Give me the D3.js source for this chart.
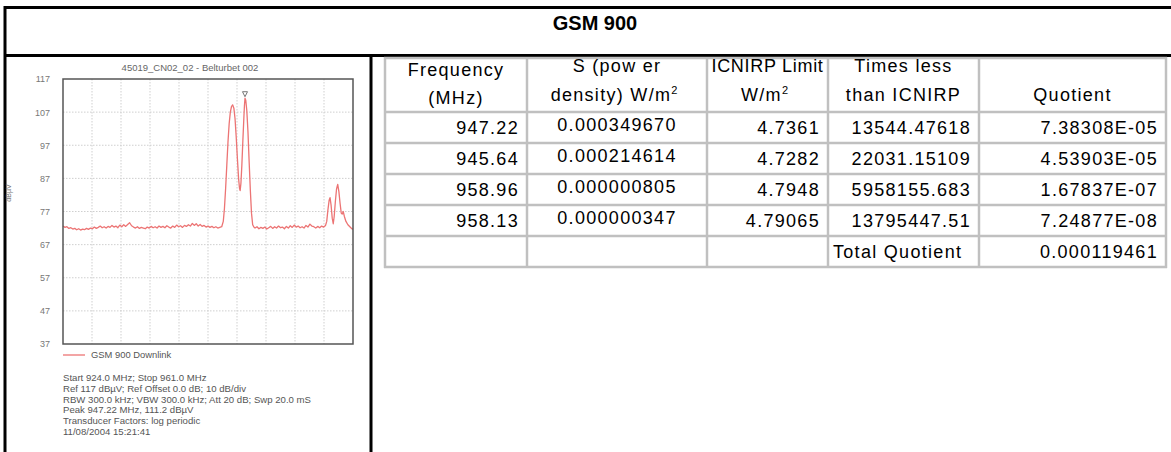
<!DOCTYPE html>
<html>
<head>
<meta charset="utf-8">
<script src="https://cdn.jsdelivr.net/npm/d3@7"></script>
<style>
  body { margin: 0; background: #fff; }
  svg { display: block; }
</style>
</head>
<body>
<svg width="1171" height="452"></svg>
<script>
// spectrum trace: [MHz, dBµV]
const spectrum = [
  [924.00, 72.6], [924.25, 72.2], [924.50, 72.4], [924.75, 71.9], [925.00, 72.1], [925.25, 71.7],
  [925.50, 71.9], [925.75, 71.5], [926.00, 71.8], [926.25, 71.4], [926.50, 71.7], [926.75, 71.5],
  [927.00, 71.9], [927.25, 71.6], [927.50, 72.0], [927.75, 71.8], [928.00, 72.3], [928.25, 71.9],
  [928.50, 72.2], [928.75, 72.6], [929.00, 72.1], [929.25, 72.4], [929.50, 72.0], [929.75, 72.5],
  [930.00, 72.2], [930.25, 72.8], [930.50, 72.3], [930.75, 72.6], [931.00, 72.1], [931.25, 72.9],
  [931.50, 72.4], [931.75, 73.0], [932.00, 72.5], [932.25, 73.1], [932.50, 73.6], [932.75, 72.7],
  [933.00, 72.3], [933.25, 72.0], [933.50, 72.4], [933.75, 71.9], [934.00, 72.2], [934.25, 72.0],
  [934.50, 71.8], [934.75, 72.3], [935.00, 72.0], [935.25, 72.5], [935.50, 72.1], [935.75, 72.4],
  [936.00, 72.0], [936.25, 72.6], [936.50, 72.2], [936.75, 72.5], [937.00, 72.1], [937.25, 72.7],
  [937.50, 72.3], [937.75, 72.0], [938.00, 72.6], [938.25, 72.2], [938.50, 72.9], [938.75, 72.4],
  [939.00, 72.7], [939.25, 72.2], [939.50, 72.8], [939.75, 72.5], [940.00, 73.0], [940.25, 72.6],
  [940.50, 73.4], [940.75, 72.8], [941.00, 73.3], [941.25, 72.6], [941.50, 73.1], [941.75, 72.5],
  [942.00, 72.8], [942.25, 72.3], [942.50, 72.6], [942.75, 72.2], [943.00, 72.5], [943.25, 72.1],
  [943.50, 72.4], [943.75, 72.0], [944.00, 72.2], [944.25, 72.4],
  [944.45, 74.0], [944.60, 78.0], [944.75, 84.0], [944.90, 91.0], [945.05, 98.0], [945.20, 103.5],
  [945.35, 107.0], [945.50, 108.7], [945.64, 109.2], [945.80, 108.2], [945.95, 105.0], [946.10, 99.5],
  [946.25, 93.0], [946.40, 87.0], [946.52, 84.0], [946.60, 83.3], [946.70, 85.5], [946.82, 91.0],
  [946.95, 98.5], [947.08, 105.5], [947.15, 109.0], [947.22, 111.2], [947.32, 110.6], [947.45, 107.5],
  [947.60, 101.0], [947.75, 92.0], [947.90, 83.5], [948.05, 76.5], [948.20, 73.0], [948.35, 72.3],
  [948.50, 72.0], [948.75, 72.4], [949.00, 71.8], [949.25, 72.2], [949.50, 71.9], [949.75, 72.3],
  [950.00, 71.7], [950.25, 72.1], [950.50, 72.5], [950.75, 71.9], [951.00, 72.4], [951.25, 72.0],
  [951.50, 72.6], [951.75, 72.1], [952.00, 72.3], [952.25, 71.8], [952.50, 72.5], [952.75, 72.0],
  [953.00, 72.7], [953.25, 72.2], [953.50, 72.9], [953.75, 72.3], [954.00, 72.6], [954.25, 72.1],
  [954.50, 72.4], [954.75, 72.0], [955.00, 72.8], [955.25, 72.3], [955.50, 73.2], [955.75, 72.6],
  [956.00, 72.4], [956.25, 72.0], [956.50, 72.5], [956.75, 72.1], [957.00, 72.6], [957.25, 72.3],
  [957.50, 72.8],
  [957.65, 74.0], [957.80, 77.5], [957.95, 80.3], [958.07, 81.2], [958.20, 79.0], [958.35, 75.0],
  [958.48, 73.3], [958.60, 75.5], [958.75, 80.0], [958.90, 83.8], [959.05, 85.2], [959.20, 83.0],
  [959.35, 79.5], [959.50, 76.5], [959.62, 76.2], [959.75, 77.0], [959.90, 75.5], [960.10, 74.0],
  [960.35, 73.0], [960.60, 72.4], [960.80, 71.9], [961.00, 71.6]
];

// analyser marker
const peakMarker = [947.22, 111.2];

// y tick labels as printed on the plot
const yTicks = [117, 107, 97, 87, 77, 67, 57, 47, 37];
const xStart = 924.0, xStop = 961.0, xDivisions = 10;

const plotTitle = "45019_CN02_02 - Belturbet 002";
const legendLabel = "GSM 900 Downlink";
const infoLines = [
  "Start 924.0 MHz; Stop 961.0 MHz",
  "Ref 117 dBµV; Ref Offset 0.0 dB; 10 dB/div",
  "RBW 300.0 kHz; VBW 300.0 kHz; Att 20 dB; Swp 20.0 mS",
  "Peak 947.22 MHz, 111.2 dBµV",
  "Transducer Factors: log periodic",
  "11/08/2004 15:21:41"
];

// table columns
const freqMHz = ["947.22", "945.64", "958.96", "958.13"];
const powerDensity = ["0.000349670", "0.000214614", "0.000000805", "0.000000347"];
const icnirpLimit = ["4.7361", "4.7282", "4.7948", "4.79065"];
const timesLess = ["13544.47618", "22031.15109", "5958155.683", "13795447.51"];
const quotient = ["7.38308E-05", "4.53903E-05", "1.67837E-07", "7.24877E-08"];
const totalQuotient = "0.000119461";

const svg = d3.select("svg");
const font = "'Liberation Sans', Arial, sans-serif";

svg.append("rect").attr("width", 1171).attr("height", 452).attr("fill", "#fff");

// ---------- frame / title band ----------
const frame = svg.append("g").attr("stroke", "#000").attr("stroke-width", 3);
frame.append("line").attr("x1", 4).attr("x2", 1171).attr("y1", 7.5).attr("y2", 7.5);
frame.append("line").attr("x1", 4).attr("x2", 1171).attr("y1", 55.5).attr("y2", 55.5);
frame.append("line").attr("x1", 5).attr("x2", 5).attr("y1", 6).attr("y2", 452);
frame.append("line").attr("x1", 371).attr("x2", 371).attr("y1", 55).attr("y2", 452);

svg.append("text")
  .attr("x", 595).attr("y", 30)
  .attr("text-anchor", "middle")
  .attr("font-family", font)
  .attr("font-size", "20px")
  .attr("font-weight", "bold")
  .text("GSM 900");

// ---------- spectrum plot ----------
const plot = { left: 63, right: 353, top: 79, bottom: 344 };

const x = d3.scaleLinear().domain([xStart, xStop]).range([plot.left, plot.right]);
const y = d3.scaleLinear().domain([37, 117]).range([plot.bottom, plot.top]);

const chart = svg.append("g").attr("font-family", font);

chart.append("text")
  .attr("x", 190).attr("y", 71)
  .attr("text-anchor", "middle")
  .attr("font-size", "9.5px")
  .attr("fill", "#666")
  .text(plotTitle);

// dotted grid
const xGrid = d3.range(1, xDivisions).map(i => xStart + i * (xStop - xStart) / xDivisions);
chart.append("g")
  .selectAll("line")
  .data(xGrid)
  .join("line")
  .attr("x1", d => x(d)).attr("x2", d => x(d))
  .attr("y1", plot.top).attr("y2", plot.bottom)
  .attr("stroke", "#cfcfcf")
  .attr("stroke-dasharray", "1.5,1.5");

chart.append("g")
  .selectAll("line")
  .data(yTicks.slice(1, -1))
  .join("line")
  .attr("x1", plot.left).attr("x2", plot.right)
  .attr("y1", d => y(d)).attr("y2", d => y(d))
  .attr("stroke", "#cfcfcf")
  .attr("stroke-dasharray", "1.5,1.5");

// y axis labels
const yAxis = chart.append("g")
  .attr("transform", `translate(${plot.left}, 0)`)
  .call(d3.axisLeft(y).tickValues(yTicks).tickSize(0).tickPadding(13).tickFormat(d3.format("d")));
yAxis.select(".domain").remove();
yAxis.selectAll("text")
  .attr("font-family", font)
  .attr("font-size", "9px")
  .attr("fill", "#777");

chart.append("text")
  .attr("transform", "translate(11, 193) rotate(-90)")
  .attr("text-anchor", "middle")
  .attr("font-size", "7px")
  .attr("fill", "#777")
  .text("dBµV");

// trace
chart.append("path")
  .datum(spectrum)
  .attr("fill", "none")
  .attr("stroke", "#ec7474")
  .attr("stroke-width", 1.3)
  .attr("stroke-linejoin", "round")
  .attr("d", d3.line().x(d => x(d[0])).y(d => y(d[1])));

// plot frame
chart.append("rect")
  .attr("x", plot.left).attr("y", plot.top)
  .attr("width", plot.right - plot.left)
  .attr("height", plot.bottom - plot.top)
  .attr("fill", "none")
  .attr("stroke", "#555")
  .attr("stroke-width", 1.5);

// peak marker triangle
const mx = x(peakMarker[0]), my = y(peakMarker[1]) - 1.5;
chart.append("path")
  .attr("d", `M${mx - 2.5},${my - 5} L${mx + 2.5},${my - 5} L${mx},${my} Z`)
  .attr("fill", "#fff")
  .attr("stroke", "#666")
  .attr("stroke-width", 0.9);

// legend
chart.append("line")
  .attr("x1", 63).attr("x2", 85)
  .attr("y1", 355).attr("y2", 355)
  .attr("stroke", "#ec7474")
  .attr("stroke-width", 1.3);
chart.append("text")
  .attr("x", 91).attr("y", 358)
  .attr("font-size", "9.4px")
  .attr("fill", "#555")
  .text(legendLabel);

// analyser settings
chart.append("g")
  .selectAll("text")
  .data(infoLines)
  .join("text")
  .attr("x", 63)
  .attr("y", (d, i) => 381 + i * 10.8)
  .attr("font-size", "9.6px")
  .attr("fill", "#555")
  .text(d => d);

// ---------- results table ----------
const colEdges = [385, 527, 707, 828, 979, 1166];
const rowEdges = [58, 112, 143, 174, 205, 236, 267];
const pad = 8;

const table = svg.append("g")
  .attr("font-family", font)
  .attr("font-size", "18px")
  .attr("letter-spacing", "1.3px")
  .attr("fill", "#000");

const grid = table.append("g").attr("stroke", "#c0c0c0").attr("stroke-width", 2.5);
grid.selectAll(".v")
  .data(colEdges)
  .join("line")
  .attr("x1", d => d).attr("x2", d => d)
  .attr("y1", rowEdges[0] - 1).attr("y2", rowEdges[rowEdges.length - 1] + 1);
grid.selectAll(".h")
  .data(rowEdges)
  .join("line")
  .attr("y1", d => d).attr("y2", d => d)
  .attr("x1", colEdges[0] - 1).attr("x2", colEdges[colEdges.length - 1] + 1);

const colMid = i => (colEdges[i] + colEdges[i + 1]) / 2;

// header cells
const headers = [
  { lines: ["Frequency", "(MHz)"], sup: false, y1: 76, y2: 104, ls: 1.3 },
  { lines: ["S (pow er", "density) W/m"], sup: true, y1: 72, y2: 100.5, ls: 1.3 },
  { lines: ["ICNIRP Limit", "W/m"], sup: true, y1: 72, y2: 100.5, ls: 0.7 },
  { lines: ["Times less", "than ICNIRP"], sup: false, y1: 72, y2: 100.5, ls: 1.3 },
  { lines: ["", "Quotient"], sup: false, y1: 72, y2: 100.5, ls: 1.3 }
];

headers.forEach((h, i) => {
  if (h.lines[0]) {
    table.append("text")
      .attr("x", colMid(i)).attr("y", h.y1)
      .attr("text-anchor", "middle")
      .attr("letter-spacing", h.ls + "px")
      .text(h.lines[0]);
  }
  const t = table.append("text")
    .attr("x", colMid(i) + (h.sup ? -3 : 0)).attr("y", h.y2)
    .attr("text-anchor", "middle");
  t.append("tspan").text(h.lines[1]);
  if (h.sup) {
    t.append("tspan")
      .attr("font-size", "11px")
      .attr("dy", -7)
      .attr("letter-spacing", "0px")
      .text("2");
  }
});

// data rows
freqMHz.forEach((f, r) => {
  const base = rowEdges[r + 1] + 22;
  table.append("text").attr("x", colEdges[1] - pad).attr("y", base)
    .attr("text-anchor", "end").text(f);
  table.append("text").attr("x", colMid(1)).attr("y", base - 3)
    .attr("text-anchor", "middle").text(powerDensity[r]);
  table.append("text").attr("x", colEdges[3] - pad).attr("y", base)
    .attr("text-anchor", "end").text(icnirpLimit[r]);
  table.append("text").attr("x", colEdges[4] - pad).attr("y", base)
    .attr("text-anchor", "end").text(timesLess[r]);
  table.append("text").attr("x", colEdges[5] - pad).attr("y", base)
    .attr("text-anchor", "end").text(quotient[r]);
});

// total row
const totalBase = rowEdges[5] + 22;
table.append("text").attr("x", colEdges[3] + 5).attr("y", totalBase)
  .text("Total Quotient");
table.append("text").attr("x", colEdges[5] - pad).attr("y", totalBase)
  .attr("text-anchor", "end").text(totalQuotient);
</script>
</body>
</html>
